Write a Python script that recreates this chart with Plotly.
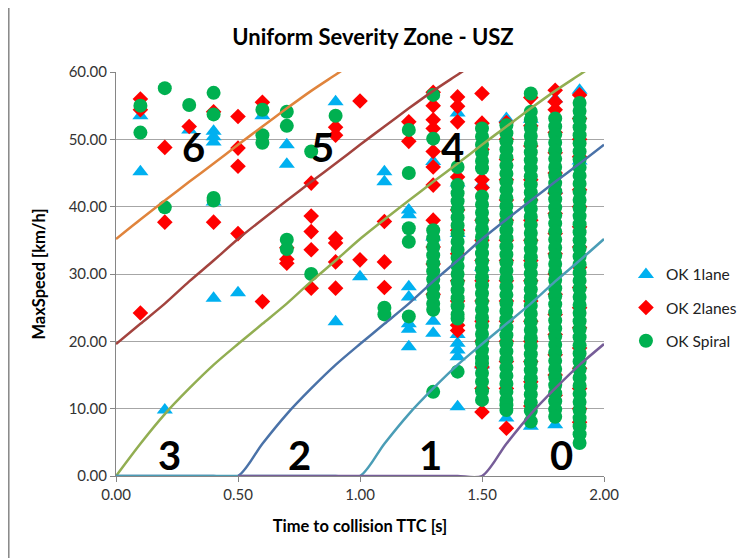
import plotly.graph_objects as go

# ---------------- data ----------------
# scatter columns: TTC values and the speeds observed at each TTC
lane1_ttc = [0.1, 0.2, 0.3, 0.4, 0.5, 0.6, 0.7, 0.9, 1.0, 1.1, 1.2, 1.3, 1.4, 1.5, 1.6, 1.7, 1.8, 1.9]
lane1_speeds = [
    [53.5, 45.2], [9.8], [51.4], [51.2, 50.4, 49.6, 40.7, 26.4], [27.2], [53.5],
    [49.2, 46.3], [55.6, 22.9], [29.6], [45.2, 43.7],
    [39.5, 38.8, 28.1, 26.6, 22.6, 21.8, 19.2],
    [46.7, 35.5, 23.0, 21.2],
    [53.9, 43.5, 36.0, 21.0, 19.7, 18.7, 17.7, 10.3],
    [43.3, 31.0, 16.5],
    [53.1, 8.6],
    [53.0, 7.4],
    [56.0, 42.5, 7.6],
    [57.3, 46.8],
]

lanes2_ttc = [0.1, 0.2, 0.3, 0.4, 0.5, 0.6, 0.7, 0.8, 0.9, 1.0, 1.1, 1.2, 1.3, 1.4, 1.5, 1.6, 1.7, 1.8, 1.9]
lanes2_speeds = [
    [56.0, 54.4, 24.2], [48.8, 37.7], [51.9], [54.1, 37.7], [53.4, 48.7, 46.0, 36.0],
    [55.5, 25.9], [33.9, 32.2, 31.6], [43.5, 38.6, 36.3, 33.6, 27.9],
    [51.8, 50.6, 35.3, 34.6, 31.8, 27.9], [55.7, 32.1], [37.8, 31.8, 28.0], [52.6, 49.7],
    [57.0, 55.0, 52.9, 51.6, 48.2, 45.9, 43.2, 38.0, 34.0, 31.5, 27.0],
    [56.3, 54.9, 52.6, 44.4, 39.5, 36.5, 33.0, 29.0, 26.0, 22.4, 21.6],
    [56.8, 52.4, 48.5, 44.0, 42.8, 38.0, 35.0, 32.0, 29.0, 26.0, 23.0, 20.0, 16.2, 13.0, 9.5],
    [52.5, 50.0, 47.0, 44.0, 41.0, 38.0, 35.0, 32.0, 29.0, 26.0, 23.0, 20.0, 17.0, 13.0, 7.1],
    [56.2, 52.0, 49.0, 44.0, 41.0, 38.0, 35.0, 32.0, 29.0, 26.0, 23.0, 20.0, 17.0, 14.0, 10.4],
    [57.3, 55.6, 54.4, 51.0, 48.0, 45.0, 42.0, 39.0, 36.0, 33.0, 30.0, 27.0, 24.0, 21.0, 18.0, 15.0, 12.0],
    [56.6, 53.1, 50.0, 47.4, 42.5, 40.0, 37.0, 34.0, 31.0, 28.0, 25.0, 22.0, 19.0, 16.0, 13.0, 10.0, 8.0],
]

spiral_ttc = [0.1, 0.2, 0.3, 0.4, 0.6, 0.7, 0.8, 0.9, 1.1, 1.2, 1.3, 1.4, 1.5, 1.6, 1.7, 1.8, 1.9]
spiral_speeds = [
    [55.0, 51.0], [57.6, 39.9], [55.1], [56.9, 53.7, 41.3, 40.9], [54.4, 50.6, 49.5],
    [54.1, 52.0, 35.1, 33.7], [48.2, 30.0], [53.5], [25.0, 24.0],
    [51.4, 45.0, 36.8, 34.8, 23.7],
    [56.6, 50.1, 36.5, 35.3, 34.0, 32.8, 31.6, 30.4, 29.2, 28.0, 26.8, 25.6, 24.7, 12.5],
    [45.9, 43.2, 42.0, 40.8, 39.6, 38.4, 37.2, 36.0, 34.8, 33.6, 32.4, 31.2, 30.0, 28.8,
     27.6, 26.4, 25.2, 24.0, 23.4, 15.5],
    [51.6, 50.4, 49.2, 48.0, 46.8, 45.7, 41.5, 40.3, 39.1, 37.9, 36.7, 35.5, 34.3, 33.1,
     31.9, 30.7, 29.5, 28.3, 27.1, 25.9, 24.7, 23.5, 22.3, 21.1, 19.9, 18.7, 17.5, 16.7,
     15.3, 14.0, 12.6, 11.3],
    [52.1, 50.9, 49.7, 48.5, 47.3, 46.1, 44.9, 43.7, 42.5, 41.3, 40.1, 38.9, 37.7, 36.5,
     35.3, 34.1, 32.9, 31.7, 30.5, 29.3, 28.1, 26.9, 25.7, 24.5, 23.3, 22.1, 20.9, 19.7,
     18.5, 17.3, 16.1, 14.9, 13.7, 12.5, 11.3, 10.5, 9.8],
    [56.8, 54.1, 52.9, 51.7, 50.5, 49.3, 48.1, 46.9, 45.7, 44.5, 43.3, 42.1, 40.9, 39.7,
     38.5, 37.3, 36.1, 34.9, 33.7, 32.5, 31.3, 30.1, 28.9, 27.7, 26.5, 25.3, 24.1, 22.9,
     21.7, 20.5, 19.3, 18.1, 16.9, 15.7, 14.5, 13.3, 12.1, 10.9, 9.7, 8.1],
    [53.1, 51.9, 50.7, 49.5, 48.3, 47.1, 45.9, 44.7, 43.5, 42.3, 41.1, 39.9, 38.7, 37.5,
     36.3, 35.1, 33.9, 32.7, 31.5, 30.3, 29.1, 27.9, 26.7, 25.5, 24.3, 23.1, 21.9, 20.7,
     19.5, 18.3, 17.1, 15.9, 14.7, 13.5, 12.3, 11.1, 9.9, 8.8],
    [55.4, 54.2, 53.0, 51.8, 50.6, 49.4, 48.2, 47.0, 45.8, 44.6, 43.4, 42.2, 41.0, 39.8,
     38.6, 37.4, 36.2, 35.0, 33.8, 32.6, 31.4, 30.2, 29.0, 27.8, 26.6, 25.4, 24.2, 23.0,
     21.8, 20.6, 19.4, 18.2, 17.0, 15.8, 14.6, 13.4, 12.2, 11.0, 9.8, 8.6, 7.4, 6.2, 4.9],
]

# zone boundary curves (TTC, speed)
ttc_grid = [0.0, 0.1, 0.2, 0.3, 0.4, 0.5, 0.6, 0.7, 0.8, 0.9, 1.0,
            1.1, 1.2, 1.3, 1.4, 1.5, 1.6, 1.7, 1.8, 1.9, 2.0]
zone56_speed = [35.2, 38.1, 40.9, 43.7, 46.4, 49.2, 51.9, 54.6, 57.2, 59.6, 62.0]
zone45_speed = [19.6, 22.6, 25.6, 28.9, 32.0, 35.2, 38.1, 40.9, 43.7, 46.4, 49.2,
                51.9, 54.6, 57.2, 59.6, 62.0]
zone34_speed = [0.0, 4.8, 9.2, 13.0, 16.5, 19.6, 22.6, 25.6, 28.9, 32.0, 35.2,
                38.1, 40.9, 43.7, 46.4, 49.2, 51.9, 54.6, 57.2, 59.6, 62.0]
zone23_speed = [0.0, 0.0, 0.0, 0.0, 0.0, 0.0, 4.8, 9.2, 13.0, 16.5, 19.6,
                22.6, 25.6, 28.9, 32.0, 35.2, 38.1, 40.9, 43.7, 46.4, 49.2]
zone12_speed = [0.0, 0.0, 0.0, 0.0, 0.0, 0.0, 0.0, 0.0, 0.0, 0.0, 0.0,
                4.8, 9.2, 13.0, 16.5, 19.6, 22.6, 25.6, 28.9, 32.0, 35.2]
zone01_ttc = [0.5, 0.6, 0.7, 0.8, 0.9, 1.0, 1.1, 1.2, 1.3, 1.4, 1.5, 1.6, 1.7, 1.8, 1.9, 2.0]
zone01_speed = [0.0, 0.0, 0.0, 0.0, 0.0, 0.0, 0.0, 0.0, 0.0, 0.0, 0.0,
                4.8, 9.2, 13.0, 16.5, 19.6]

zone_labels = ["6", "5", "4", "3", "2", "1", "0"]
zone_label_ttc = [0.316, 0.848, 1.381, 0.221, 0.754, 1.29, 1.824]
zone_label_speed = [48.8, 48.8, 48.8, 3.15, 3.15, 3.15, 3.15]

x_ticks = [0.0, 0.5, 1.0, 1.5, 2.0]
y_ticks = [0, 10, 20, 30, 40, 50, 60]


def expand(ttcs, speed_lists):
    xs, ys = [], []
    for t, sp in zip(ttcs, speed_lists):
        for s in sp:
            xs.append(t)
            ys.append(s)
    return xs, ys


FONT = "Lato, 'Open Sans', sans-serif"
fig = go.Figure()

lx, ly = expand(lane1_ttc, lane1_speeds)
rx, ry = expand(lanes2_ttc, lanes2_speeds)
gx, gy = expand(spiral_ttc, spiral_speeds)

fig.add_trace(go.Scatter(x=lx, y=ly, mode="markers", name="OK 1lane", legendgroup="a",
                         marker=dict(symbol="triangle-up", size=14, color="#00B0F0")))
fig.add_trace(go.Scatter(x=rx, y=ry, mode="markers", name="OK 2lanes", legendgroup="b",
                         marker=dict(symbol="diamond", size=12, color="#FF0000")))
fig.add_trace(go.Scatter(x=gx, y=gy, mode="markers", name="OK Spiral", legendgroup="c",
                         marker=dict(symbol="circle", size=14, color="#00B050")))

curves = [
    (ttc_grid[:len(zone56_speed)], zone56_speed, "#E0843C"),
    (ttc_grid[:len(zone45_speed)], zone45_speed, "#A3433E"),
    (ttc_grid, zone34_speed, "#92AE52"),
    (ttc_grid, zone23_speed, "#4A72A8"),
    (ttc_grid, zone12_speed, "#4A9DB6"),
    (zone01_ttc, zone01_speed, "#765D98"),
]
for cx, cy, col in curves:
    fig.add_trace(go.Scatter(x=cx, y=cy, mode="lines", showlegend=False, hoverinfo="skip",
                             line=dict(color=col, width=2.5, shape="spline", smoothing=0.8)))

for txt, tx, ty in zip(zone_labels, zone_label_ttc, zone_label_speed):
    fig.add_annotation(x=tx, y=ty, text=txt, showarrow=False,
                       font=dict(family=FONT, size=40, color="black", weight="bold"),
                       xanchor="center", yanchor="middle")

# plot area: 488 x 404 px; page body adds an 8 px offset
L, T, PW, PH = 108, 64, 488, 404
W, H = 741, 550

# left chart-area border
fig.add_shape(type="line", xref="paper", yref="paper", x0=(0.8 - L) / PW, x1=(0.8 - L) / PW,
              y0=-0.3, y1=1.3, line=dict(color="#868686", width=1.5))

fig.update_layout(
    width=W, height=H,
    margin=dict(l=L, r=W - L - PW, t=T, b=H - T - PH, autoexpand=False),
    paper_bgcolor="white", plot_bgcolor="white",
    title=dict(text="<b>Uniform Severity Zone - USZ</b>", x=365 / W, xanchor="center",
               y=1 - 29 / H, yanchor="middle",
               font=dict(family=FONT, size=22, color="black")),
    font=dict(family=FONT, color="#222222"),
    legend=dict(x=1.045, xanchor="left", y=0.54, yanchor="top", tracegroupgap=10,
                font=dict(family=FONT, size=15.5, color="#222222"), bgcolor="rgba(0,0,0,0)"),
    showlegend=True,
)
fig.update_xaxes(range=[0, 2], tickvals=x_ticks, tickformat=".2f",
                 showgrid=False, zeroline=False, showline=True, linecolor="#868686", linewidth=1,
                 ticks="outside", ticklen=5, tickcolor="#868686",
                 tickfont=dict(family=FONT, size=15, color="#333333"),
                 title=dict(text="<b>Time to collision TTC [s]</b>", standoff=18,
                            font=dict(family=FONT, size=16.5, color="black")))
fig.update_yaxes(range=[0, 60], tickvals=y_ticks, tickformat=".2f",
                 showgrid=True, gridcolor="#A6A6A6", gridwidth=1, zeroline=False,
                 showline=True, linecolor="#868686", linewidth=1,
                 ticks="outside", ticklen=5, tickcolor="#868686",
                 tickfont=dict(family=FONT, size=15, color="#333333"),
                 title=dict(text="<b>MaxSpeed [km/h]</b>", standoff=18,
                            font=dict(family=FONT, size=16.5, color="black")))

fig.write_html("out.html")
